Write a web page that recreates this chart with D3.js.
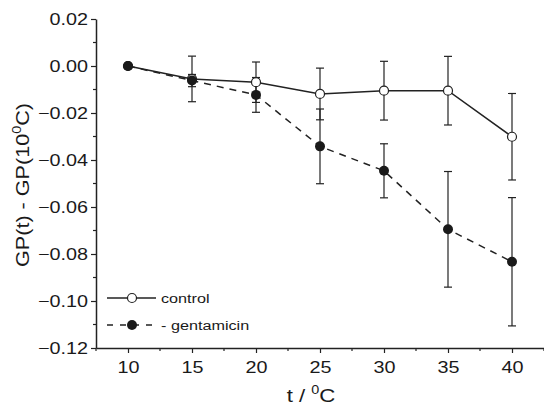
<!DOCTYPE html>
<html>
<head>
<meta charset="utf-8">
<script src="https://cdn.jsdelivr.net/npm/d3@7"></script>
<style>
  body { margin: 0; background: #fff; }
  svg { display: block; font-family: "Liberation Sans", Arial, sans-serif; }
</style>
</head>
<body>
<svg id="chart" width="544" height="405"></svg>
<script>
// values
const temps = [10, 15, 20, 25, 30, 35, 40];
const controlMean = [0, -0.0055, -0.0069, -0.0119, -0.0105, -0.0105, -0.0301];
const controlErr = [0, 0.0097, 0.0086, 0.0110, 0.0125, 0.0146, 0.0184];
const gentaMean = [0, -0.0062, -0.0123, -0.0342, -0.0446, -0.0695, -0.0833];
const gentaErr = [0, 0.0026, 0.0074, 0.0159, 0.0115, 0.0246, 0.0273];
const xTicks = [10, 15, 20, 25, 30, 35, 40];
const yTicks = [0.02, 0.00, -0.02, -0.04, -0.06, -0.08, -0.10, -0.12];

const svg = d3.select("#chart");
const x = d3.scaleLinear().domain([7.5, 42.5]).range([96, 544]);
const y = d3.scaleLinear().domain([-0.12, 0.02]).range([348, 19]);
const stretch = "scale(1.2,1)";

// minor ticks first
const xMinor = d3.range(7.5, 43, 5);
const yMinor = d3.range(-0.11, 0.02, 0.02);
svg.append("g").selectAll("line").data(xMinor).join("line")
    .attr("x1", d => x(d)).attr("x2", d => x(d))
    .attr("y1", 348).attr("y2", 351)
    .attr("stroke", "#222").attr("stroke-width", 1.2);
svg.append("g").selectAll("line").data(yMinor).join("line")
    .attr("x1", 96).attr("x2", 93)
    .attr("y1", d => y(d)).attr("y2", d => y(d))
    .attr("stroke", "#222").attr("stroke-width", 1.2);

const xAxis = svg.append("g")
    .attr("transform", "translate(0,348)")
    .call(d3.axisBottom(x).tickValues(xTicks).tickSize(5).tickSizeOuter(0).tickFormat(d3.format("d")));
const yAxis = svg.append("g")
    .attr("transform", "translate(96,0)")
    .call(d3.axisLeft(y).tickValues(yTicks).tickSize(5).tickSizeOuter(0).tickFormat(d3.format(".2f")));

[xAxis, yAxis].forEach(a => {
    a.select(".domain").attr("stroke", "#222").attr("stroke-width", 1.5);
    a.selectAll(".tick line").attr("stroke", "#222").attr("stroke-width", 1.2);
    a.selectAll(".tick text").attr("fill", "#1a1a1a").style("font-size", "16.5px")
        .style("font-family", "Liberation Sans, Arial, sans-serif");
});
xAxis.selectAll(".tick text").attr("y", 0).attr("dy", 0)
    .attr("transform", `translate(0,${25}) ${stretch}`);
yAxis.selectAll(".tick text").attr("x", 0).attr("dy", "0.35em")
    .attr("transform", `translate(-8,0) ${stretch}`);

// error bars
function errorBars(means, errs) {
    const g = svg.append("g").attr("stroke", "#222").attr("stroke-width", 1.2);
    temps.forEach((t, i) => {
        if (errs[i] === 0) return;
        const cx = x(t), lo = y(means[i] - errs[i]), hi = y(means[i] + errs[i]);
        g.append("line").attr("x1", cx).attr("x2", cx).attr("y1", lo).attr("y2", hi);
        g.append("line").attr("x1", cx - 4).attr("x2", cx + 4).attr("y1", lo).attr("y2", lo);
        g.append("line").attr("x1", cx - 4).attr("x2", cx + 4).attr("y1", hi).attr("y2", hi);
    });
}
errorBars(controlMean, controlErr);
errorBars(gentaMean, gentaErr);

const line = d3.line().x(d => x(d[0])).y(d => y(d[1]));
const controlPts = temps.map((t, i) => [t, controlMean[i]]);
const gentaPts = temps.map((t, i) => [t, gentaMean[i]]);

svg.append("path").datum(controlPts).attr("d", line)
    .attr("fill", "none").attr("stroke", "#222").attr("stroke-width", 1.5);
svg.append("path").datum(gentaPts).attr("d", line)
    .attr("fill", "none").attr("stroke", "#222").attr("stroke-width", 1.5)
    .attr("stroke-dasharray", "7,6");

svg.append("g").selectAll("circle").data(controlPts).join("circle")
    .attr("cx", d => x(d[0])).attr("cy", d => y(d[1])).attr("r", 4.5)
    .attr("fill", "#fff").attr("stroke", "#222").attr("stroke-width", 1.2);
svg.append("g").selectAll("circle").data(gentaPts).join("circle")
    .attr("cx", d => x(d[0])).attr("cy", d => y(d[1])).attr("r", 5)
    .attr("fill", "#1a1a1a");

// legend
const legend = svg.append("g");
legend.append("line").attr("x1", 107).attr("x2", 156).attr("y1", 298).attr("y2", 298)
    .attr("stroke", "#222").attr("stroke-width", 1.5);
legend.append("circle").attr("cx", 132).attr("cy", 298).attr("r", 4.5)
    .attr("fill", "#fff").attr("stroke", "#222").attr("stroke-width", 1.2);
legend.append("line").attr("x1", 107).attr("x2", 156).attr("y1", 325).attr("y2", 325)
    .attr("stroke", "#222").attr("stroke-width", 1.5).attr("stroke-dasharray", "6,7");
legend.append("circle").attr("cx", 132).attr("cy", 325).attr("r", 5).attr("fill", "#1a1a1a");
legend.append("text").attr("transform", `translate(161,303) ${stretch}`)
    .style("font-size", "13.5px").attr("fill", "#1a1a1a").text("control");
legend.append("text").attr("transform", `translate(161,330) ${stretch}`)
    .style("font-size", "13.5px").attr("fill", "#1a1a1a").text("- gentamicin");

// axis titles
const xt = svg.append("text").attr("text-anchor", "middle")
    .attr("transform", `translate(311,402) ${stretch}`)
    .style("font-size", "18.5px").attr("fill", "#1a1a1a");
xt.append("tspan").text("t / ");
xt.append("tspan").attr("dy", -8).style("font-size", "12px").text("0");
xt.append("tspan").attr("dy", 8).text("C");

const yt = svg.append("text").attr("text-anchor", "middle")
    .attr("transform", `translate(29,185) rotate(-90) ${stretch}`)
    .style("font-size", "18px").attr("fill", "#1a1a1a");
yt.append("tspan").text("GP(t) - GP(10");
yt.append("tspan").attr("dy", -8).style("font-size", "12px").text("0");
yt.append("tspan").attr("dy", 8).text("C)");
</script>
</body>
</html>
